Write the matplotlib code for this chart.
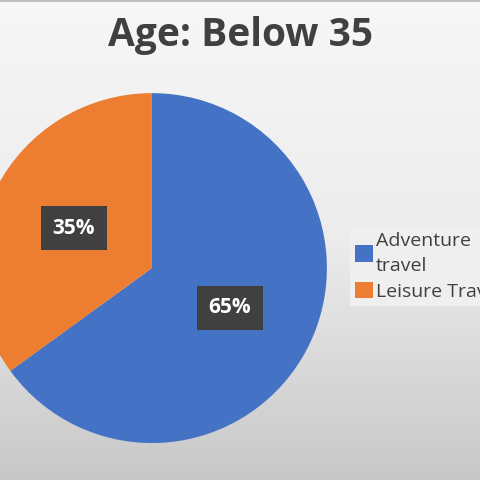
import numpy as np
import matplotlib
matplotlib.use("Agg")
import matplotlib.pyplot as plt

title = "Age: Below 35"
labels = ["Adventure\ntravel", "Leisure Travel"]
values = [65, 35]
colors = ["#4472c4", "#ed7d31"]

plt.rcParams['font.family'] = ['Open Sans', 'DejaVu Sans']

fig = plt.figure(figsize=(4.8, 4.8), dpi=100)

# background gradient (white at top, grey at bottom)
bg = fig.add_axes([0, 0, 1, 1], zorder=0)
grad = np.linspace(0, 1, 256).reshape(-1, 1)
bg.imshow(grad, aspect="auto", cmap=matplotlib.colors.LinearSegmentedColormap.from_list(
    "bgc", ["#f7f7f7", "#ececec", "#c8c8c8"]), extent=[0, 1, 0, 1], origin="upper")
bg.axhline(0.999, color="#bdbdbd", linewidth=2)
bg.set_xlim(0, 1)
bg.set_ylim(0, 1)
bg.axis("off")

ax = fig.add_axes([-0.048, 0.077, 0.729, 0.729], zorder=1)
ax.set_facecolor("none")
wedges, texts, autotexts = ax.pie(
    values, colors=colors, startangle=90, counterclock=False,
    autopct="%d%%", pctdistance=0.5, radius=1,
    wedgeprops=dict(linewidth=0),
    textprops=dict(color="white", fontsize=15, fontweight="bold"))
for t in autotexts:
    t.set_bbox(dict(boxstyle="square,pad=0.55", facecolor="#404040", edgecolor="none"))
ax.set_xlim(-1, 1)
ax.set_ylim(-1, 1)
ax.set_aspect("equal")

fig.text(0.5, 0.927, title, ha="center", va="center", fontsize=28,
         fontweight="bold", color="#404040")

leg = fig.legend(wedges, labels, loc="upper left", bbox_to_anchor=(0.729, 0.527),
                 fontsize=14, frameon=True, fancybox=False, handlelength=0.95,
                 handleheight=0.95, handletextpad=0.15, borderpad=0.25,
                 labelspacing=0.35, borderaxespad=0)
leg.get_frame().set_facecolor("#efefef")
leg.get_frame().set_edgecolor("none")
leg.get_frame().set_alpha(1)
for t in leg.get_texts():
    t.set_color("#404040")
    t.set_linespacing(1.5)

fig.savefig("out.png", dpi=100)
